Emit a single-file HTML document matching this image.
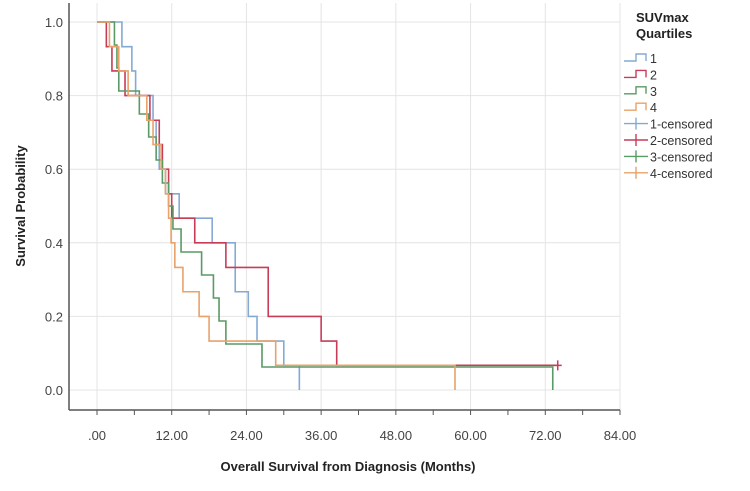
<!DOCTYPE html>
<html><head><meta charset="utf-8"><style>
body{margin:0;background:#fff;font-family:"Liberation Sans",sans-serif}
svg text{font-family:"Liberation Sans",sans-serif}
</style></head><body>
<svg id="c" width="750" height="486">
<g id="grid"></g><g id="ax"></g><g id="series"></g>
<line x1="69" y1="3" x2="69" y2="410" stroke="#555" stroke-width="1.5"/>
<line x1="69" y1="410" x2="620" y2="410" stroke="#555" stroke-width="1.5"/>
<text x="25" y="206" transform="rotate(-90 25 206)" text-anchor="middle" font-size="13" font-weight="bold" fill="#222">Survival Probability</text>
<text x="348" y="471" text-anchor="middle" font-size="13" font-weight="bold" fill="#222">Overall Survival from Diagnosis (Months)</text>
<g id="legend">
<text x="636" y="22" font-size="13" font-weight="bold" fill="#222">SUVmax</text>
<text x="636" y="38" font-size="13" font-weight="bold" fill="#222">Quartiles</text>
</g>
</svg>
<script>
const xTicks=[0,12,24,36,48,60,72,84];
const xMinorTicks=[6,18,30,42,54,66,78];
const xTickLabels=[".00","12.00","24.00","36.00","48.00","60.00","72.00","84.00"];
const yTicks=[0,0.2,0.4,0.6,0.8,1.0];
const yTickLabels=["0.0","0.2","0.4","0.6","0.8","1.0"];
const seriesNames=["1","2","3","4"];
const s1=[[0,1],[4,.933],[5.6,.867],[6.2,.8],[9,.733],[9.5,.667],[10,.6],[11,.533],[13.2,.467],[18.5,.4],[22.2,.267],[24.3,.2],[25.7,.133],[30,.067],[32.5,0]];
const s2=[[0,1],[1.5,.933],[2.4,.867],[4.5,.8],[8.5,.733],[10,.667],[10.5,.6],[11.5,.533],[12,.467],[15.7,.4],[20.7,.333],[27.5,.2],[36,.133],[38.5,.067],[74,.067]];
const s3=[[0,1],[2.8,.9375],[3.2,.875],[3.5,.8125],[6.8,.75],[8.3,.6875],[9.5,.625],[10.5,.5625],[11.5,.5],[12.2,.4375],[13.5,.375],[16.8,.3125],[18.7,.25],[19.6,.1875],[20.7,.125],[26.5,.0625],[73.2,0]];
const s4=[[0,1],[2,.933],[3.5,.867],[5,.8],[8,.733],[9,.667],[10.3,.6],[11,.533],[11.5,.467],[11.9,.4],[12.5,.333],[13.8,.267],[16.4,.2],[18,.133],[28.7,.067],[57.5,0]];
const censor2=[[74,.067]];
const colors=["#84aad4","#c73d58","#5a9a64","#e8a26a"];
const X=v=>97+v*(523/84), Y=v=>390-v*368;
const NS="http://www.w3.org/2000/svg";
function mk(t,a,p){const e=document.createElementNS(NS,t);for(const k in a)e.setAttribute(k,a[k]);p.appendChild(e);return e;}
const grid=document.getElementById('grid'),ax=document.getElementById('ax'),sg=document.getElementById('series'),lg=document.getElementById('legend');
xTicks.forEach((t,i)=>{
 const l=mk('line',{x1:X(t),x2:X(t),y1:3,y2:410,stroke:'#e4e4e4'},grid);
 
 
 const tk=mk('line',{x1:X(t),x2:X(t),y1:410,y2:415,stroke:'#555'},ax);
 
 
 const tx=mk('text',{x:X(t),y:440,'text-anchor':'middle','font-size':13,fill:'#444'},ax);
 tx.textContent=xTickLabels[i];
 
 
});
xMinorTicks.forEach(t=>{
 const tk=mk('line',{x1:X(t),x2:X(t),y1:410,y2:415,stroke:'#555'},ax);
 
 
});
yTicks.forEach((t,i)=>{
 const l=mk('line',{x1:69,x2:620,y1:Y(t),y2:Y(t),stroke:'#e4e4e4'},grid);
 
 
 const tx=mk('text',{x:63,y:Y(t)+5,'text-anchor':'end','font-size':13,fill:'#444'},ax);
 tx.textContent=yTickLabels[i];
 
 
});
[s1,s2,s3,s4].forEach((s,i)=>{
 let d='M'+X(s[0][0])+','+Y(s[0][1]);
 for(let k=1;k<s.length;k++){d+=' H'+X(s[k][0])+' V'+Y(s[k][1]);}
 const p=mk('path',{d:d,fill:'none',stroke:colors[i],'stroke-width':1.6},sg);
 
 
});
censor2.forEach(c=>{
 const m=mk('path',{d:`M${X(c[0])-4},${Y(c[1])}H${X(c[0])+4}M${X(c[0])},${Y(c[1])-5}V${Y(c[1])+5}`,stroke:colors[1],'stroke-width':1.5},sg);
 
 
});
const labels=["1","2","3","4","1-censored","2-censored","3-censored","4-censored"];
labels.forEach((lab,i)=>{
 const y=58+i*16.4,c=colors[i%4];
 let d=i<4?`M624,${y+3}H636V${y-4}H646V${y+3}`:`M624,${y}H648M636,${y-6}V${y+6}`;
 const p=mk('path',{d:d,fill:'none',stroke:c,'stroke-width':1.4},lg);
 
 
 const t=mk('text',{x:650,y:y+5,'font-size':12.5,fill:'#333'},lg);
 t.textContent=lab;
 
 
});
</script>
</body></html>
